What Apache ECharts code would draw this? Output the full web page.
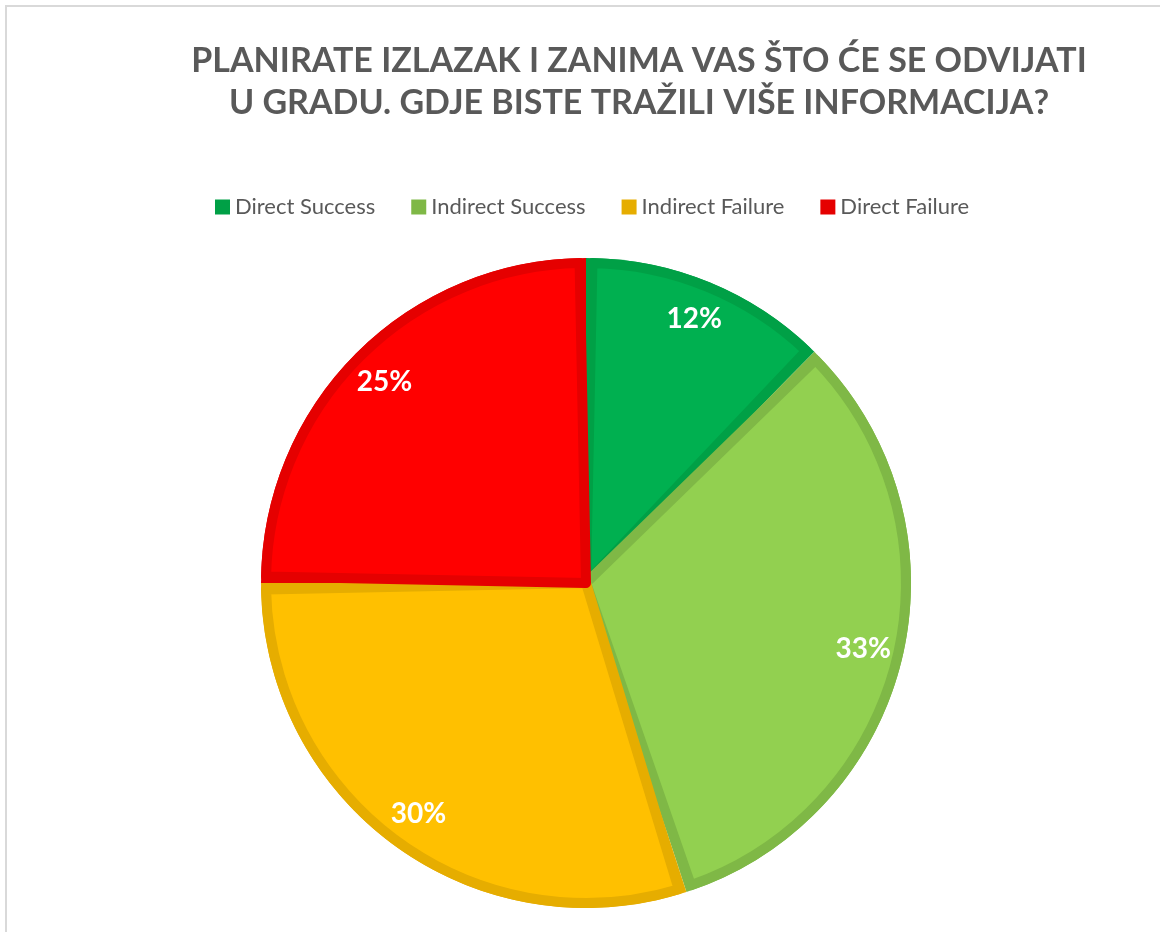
<!DOCTYPE html>
<html>
<head>
<meta charset="utf-8">
<title>Pie</title>
<script src="https://cdn.jsdelivr.net/npm/echarts@6/dist/echarts.min.js"></script>
<style>
	html, body {margin: 0; padding: 0; background: #fff; overflow: hidden;}
	#charts {width: 1160px; height: 932px;}
	#frame {position: absolute; left: 5px; top: 5px; width: 2000px; height: 2000px; border-top: 2px solid #d9d9d9; border-left: 2px solid #d9d9d9; pointer-events: none;}
</style>
</head>
<body>
<div id="charts"></div>
<div id="frame"></div>
<script>
var g_titleLines = ['PLANIRATE IZLAZAK I ZANIMA VAS ŠTO ĆE SE ODVIJATI', 'U GRADU. GDJE BISTE TRAŽILI VIŠE INFORMACIJA?'];
var g_names = ['Direct Success', 'Indirect Success', 'Indirect Failure', 'Direct Failure'];
var g_values = [12.4, 32.6, 30, 25];
var g_fillColors = ['#00b050', '#92d050', '#ffc000', '#ff0000'];
var g_edgeColors = ['#00a046', '#7fb846', '#e6ad00', '#e50000'];

initCharts();

//初始化图
function initCharts(){
	var charts = echarts.init(document.getElementById('charts'));
	var center = [586, 583];
	var edgeData = [], fillData = [], labelData = [];
	for(var i = 0; i < g_names.length; i++){
		edgeData.push({name: g_names[i], value: g_values[i], itemStyle: {color: g_edgeColors[i]}});
		fillData.push({name: g_names[i], value: g_values[i], itemStyle: {color: g_fillColors[i], borderColor: g_edgeColors[i]}});
		labelData.push({name: g_names[i], value: g_values[i]});
	}
	var option = {
		animation: false,
		title: {
			text: g_titleLines.join('\n'),
			left: 634,
			textAlign: 'center',
			top: 35,
			textStyle: {
				fontFamily: 'Lato',
				fontWeight: 'bold',
				fontSize: 34,
				lineHeight: 42,
				color: '#595959'
			}
		},
		legend: {
			top: 191,
			left: 210,
			itemWidth: 15,
			itemHeight: 15,
			itemGap: 36,
			icon: 'rect',
			data: g_names,
			textStyle: {
				fontFamily: 'Lato',
				fontSize: 22,
				color: '#595959'
			}
		},
		series: [
			{
				// 底层边框颜色
				name: 'edge',
				type: 'pie',
				silent: true,
				center: center,
				radius: 325,
				startAngle: 90,
				clockwise: true,
				label: {show: false},
				labelLine: {show: false},
				data: edgeData
			},
			{
				// 内部填充
				name: 'fill',
				type: 'pie',
				silent: true,
				center: center,
				radius: 320,
				startAngle: 90,
				padAngle: 2.3,
				clockwise: true,
				itemStyle: {borderWidth: 10},
				label: {show: false},
				labelLine: {show: false},
				data: fillData
			},
			{
				// 百分比标签
				name: 'label',
				type: 'pie',
				silent: true,
				center: center,
				radius: [250, 314],
				startAngle: 90,
				clockwise: true,
				itemStyle: {color: 'transparent'},
				legendHoverLink: false,
				label: {
					show: true,
					position: 'inside',
					formatter: function(p){ return Math.round(p.value) + '%'; },
					fontFamily: 'Lato',
					fontWeight: 'bold',
					fontSize: 28,
					color: '#fff'
				},
				labelLine: {show: false},
				data: labelData
			}
		]
	};
	charts.setOption(option);
}
</script>
</body>
</html>
